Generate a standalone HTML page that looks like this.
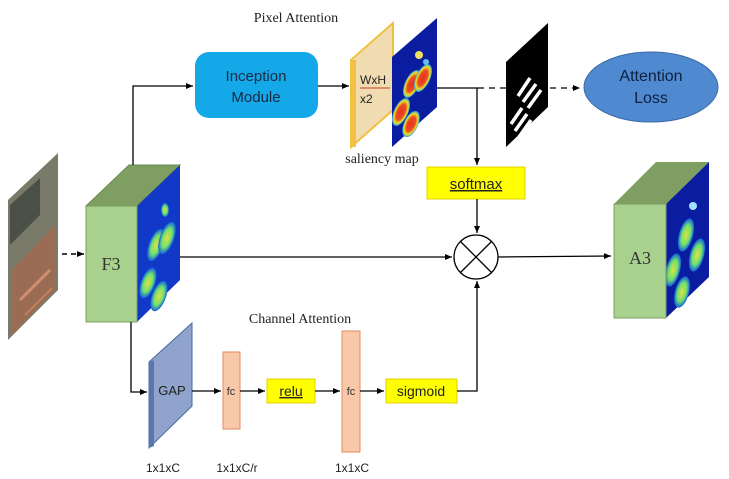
<!DOCTYPE html>
<html><head><meta charset="utf-8"><style>
body{margin:0;background:#fff}
svg{display:block}
.s{font-family:"Liberation Sans",sans-serif}
.r{font-family:"Liberation Serif",serif}
</style></head><body>
<svg width="729" height="479" viewBox="0 0 729 479" xmlns="http://www.w3.org/2000/svg">
<defs>
<marker id="a" markerWidth="8" markerHeight="8" refX="7" refY="4" orient="auto" markerUnits="userSpaceOnUse"><path d="M0,1 L7,4 L0,7 z" fill="#000"/></marker>
<radialGradient id="hb"><stop offset="0" stop-color="#e83020"/><stop offset=".55" stop-color="#e85020"/><stop offset=".8" stop-color="#f0e020"/><stop offset="1" stop-color="#20a0f0"/></radialGradient>
<radialGradient id="gb"><stop offset="0" stop-color="#e0e040"/><stop offset=".6" stop-color="#70e070"/><stop offset="1" stop-color="#1060e0"/></radialGradient>
</defs>
<rect width="729" height="479" fill="#fff"/>
<!-- satellite -->
<polygon points="8,200 58,153 58,290 8,340" fill="#7a7a6a"/>
<polygon points="10,205 40,178 40,215 10,245" fill="#4a5048"/>
<polygon points="12,270 55,225 55,290 12,335" fill="#a06a50" opacity=".85"/>
<line x1="20" y1="300" x2="50" y2="270" stroke="#d09070" stroke-width="3"/>
<line x1="25" y1="315" x2="52" y2="288" stroke="#c08060" stroke-width="2"/>
<line x1="62" y1="254" x2="84" y2="254" stroke="#000" stroke-width="1.5" stroke-dasharray="5,4" marker-end="url(#a)"/>
<!-- F3 cube -->
<polygon points="86,206 129,165 180,165 137,206" fill="#7f9e62" stroke="#6a8a50"/>
<polygon points="137,206 180,165 180,280 137,322" fill="#1238c8"/>
<ellipse cx="156" cy="245" rx="7" ry="17" fill="url(#gb)" transform="rotate(20 156 245)"/>
<ellipse cx="167" cy="238" rx="7" ry="17" fill="url(#gb)" transform="rotate(20 167 238)"/>
<ellipse cx="148" cy="283" rx="7" ry="16" fill="url(#gb)" transform="rotate(20 148 283)"/>
<ellipse cx="159" cy="296" rx="7" ry="16" fill="url(#gb)" transform="rotate(20 159 296)"/>
<ellipse cx="165" cy="210" rx="4" ry="7" fill="url(#gb)"/>
<rect x="86" y="206" width="51" height="116" fill="#a9d18e" stroke="#7f9e62"/>
<text x="111" y="270" class="r" font-size="18" text-anchor="middle" fill="#333">F3</text>
<!-- top path -->
<polyline points="133,165 133,86 193,86" fill="none" stroke="#000" stroke-width="1.3" marker-end="url(#a)"/>
<text x="296" y="22" class="r" font-size="14" text-anchor="middle" fill="#222">Pixel Attention</text>
<rect x="195" y="52" width="123" height="66" rx="14" fill="#14a8e8"/>
<text x="256" y="81" class="s" font-size="15" text-anchor="middle" fill="#1a2a40">Inception</text>
<text x="256" y="102" class="s" font-size="15" text-anchor="middle" fill="#1a2a40">Module</text>
<line x1="318" y1="86" x2="349" y2="86" stroke="#000" stroke-width="1.3" marker-end="url(#a)"/>
<polygon points="351,60 393,23 393,110 351,147" fill="#f0dcb0" stroke="#f0c040" stroke-width="2"/>
<polygon points="351,60 356,60 356,147 351,147" fill="#f5c040"/>
<text x="360" y="84" class="s" font-size="12" fill="#222">WxH</text>
<line x1="360" y1="88" x2="390" y2="88" stroke="#c04020" stroke-width="1"/>
<text x="360" y="103" class="s" font-size="12" fill="#222">x2</text>
<polygon points="392,57 437,18 437,107 392,147" fill="#0a1ca0"/>
<ellipse cx="412" cy="84" rx="7" ry="15" fill="url(#hb)" transform="rotate(25 412 84)"/>
<ellipse cx="423" cy="78" rx="7" ry="15" fill="url(#hb)" transform="rotate(25 423 78)"/>
<ellipse cx="401" cy="112" rx="7" ry="15" fill="url(#hb)" transform="rotate(25 401 112)"/>
<ellipse cx="411" cy="124" rx="7" ry="14" fill="url(#hb)" transform="rotate(25 411 124)"/>
<circle cx="419" cy="55" r="4" fill="#f0e060"/>
<circle cx="426" cy="62" r="3" fill="#60c0f0"/>
<text x="382" y="163" class="r" font-size="14" text-anchor="middle" fill="#222">saliency map</text>
<line x1="437" y1="88" x2="478" y2="88" stroke="#000" stroke-width="1.3"/>
<line x1="478" y1="88" x2="506" y2="88" stroke="#000" stroke-width="1.3" stroke-dasharray="6,5"/>
<polygon points="506,62 548,23 548,107 506,147" fill="#000"/>
<g stroke="#fff" stroke-width="3.5"><line x1="518" y1="96" x2="530" y2="78"/><line x1="523" y1="102" x2="536" y2="84"/><line x1="528" y1="108" x2="541" y2="90"/><line x1="511" y1="124" x2="522" y2="108"/><line x1="515" y1="131" x2="527" y2="114"/><line x1="519" y1="137" x2="531" y2="120"/></g>
<line x1="550" y1="88" x2="580" y2="88" stroke="#000" stroke-width="1.3" stroke-dasharray="6,5" marker-end="url(#a)"/>
<ellipse cx="651" cy="87" rx="67" ry="35" fill="#4f8ad0" stroke="#3a6aa8"/>
<text x="651" y="81" class="s" font-size="16" text-anchor="middle" fill="#0e2040">Attention</text>
<text x="651" y="103" class="s" font-size="16" text-anchor="middle" fill="#0e2040">Loss</text>
<line x1="477" y1="88" x2="477" y2="165" stroke="#000" stroke-width="1.3" marker-end="url(#a)"/>
<rect x="427" y="167" width="98" height="32" fill="#ffff00" stroke="#e0d000"/>
<text x="476" y="189" class="s" font-size="15" text-anchor="middle" fill="#222" text-decoration="underline">softmax</text>
<line x1="477" y1="199" x2="477" y2="233" stroke="#000" stroke-width="1.3" marker-end="url(#a)"/>
<!-- main line -->
<line x1="180" y1="257" x2="452" y2="257" stroke="#000" stroke-width="1.3" marker-end="url(#a)"/>
<circle cx="476" cy="257" r="22" fill="#fff" stroke="#000" stroke-width="1.3"/>
<line x1="460" y1="241" x2="492" y2="273" stroke="#000" stroke-width="1.3"/>
<line x1="492" y1="241" x2="460" y2="273" stroke="#000" stroke-width="1.3"/>
<line x1="498" y1="257" x2="611" y2="256" stroke="#000" stroke-width="1.3" marker-end="url(#a)"/>
<!-- A3 -->
<polygon points="614,204 656,162 709,162 666,204" fill="#7f9e62"/>
<polygon points="666,204 709,162 709,277 666,318" fill="#0a1ca0"/>
<ellipse cx="686" cy="235" rx="7" ry="17" fill="url(#gb)" transform="rotate(15 686 235)"/>
<ellipse cx="697" cy="255" rx="7" ry="17" fill="url(#gb)" transform="rotate(15 697 255)"/>
<ellipse cx="673" cy="270" rx="7" ry="17" fill="url(#gb)" transform="rotate(15 673 270)"/>
<ellipse cx="682" cy="292" rx="7" ry="16" fill="url(#gb)" transform="rotate(15 682 292)"/>
<circle cx="693" cy="206" r="4" fill="#a0e0ff"/>
<rect x="614" y="204" width="52" height="114" fill="#a9d18e" stroke="#7f9e62"/>
<text x="640" y="264" class="r" font-size="18" text-anchor="middle" fill="#333">A3</text>
<!-- channel -->
<text x="300" y="323" class="r" font-size="14" text-anchor="middle" fill="#222">Channel Attention</text>
<polyline points="131,322 131,392 147,392" fill="none" stroke="#000" stroke-width="1.3" marker-end="url(#a)"/>
<polygon points="149,362 192,323 192,406 149,448" fill="#8fa3cc" stroke="#4a6aa0"/>
<polygon points="149,362 154,360 154,446 149,448" fill="#5a78b0"/>
<text x="172" y="395" class="s" font-size="13" text-anchor="middle" fill="#222">GAP</text>
<line x1="192" y1="391" x2="221" y2="391" stroke="#000" stroke-width="1.3" marker-end="url(#a)"/>
<rect x="223" y="352" width="17" height="77" fill="#f8c8a8" stroke="#e08a60"/>
<text x="231" y="395" class="s" font-size="11" text-anchor="middle" fill="#333">fc</text>
<line x1="240" y1="391" x2="265" y2="391" stroke="#000" stroke-width="1.3" marker-end="url(#a)"/>
<rect x="267" y="379" width="48" height="24" fill="#ffff00" stroke="#e0d000"/>
<text x="291" y="396" class="s" font-size="14" text-anchor="middle" fill="#222" text-decoration="underline">relu</text>
<line x1="315" y1="391" x2="340" y2="391" stroke="#000" stroke-width="1.3" marker-end="url(#a)"/>
<rect x="342" y="331" width="18" height="121" fill="#f8c8a8" stroke="#e08a60"/>
<text x="351" y="395" class="s" font-size="11" text-anchor="middle" fill="#333">fc</text>
<line x1="360" y1="391" x2="384" y2="391" stroke="#000" stroke-width="1.3" marker-end="url(#a)"/>
<rect x="386" y="379" width="71" height="24" fill="#ffff00" stroke="#e0d000"/>
<text x="421" y="396" class="s" font-size="14" text-anchor="middle" fill="#222">sigmoid</text>
<polyline points="457,391 477,391 477,281" fill="none" stroke="#000" stroke-width="1.3" marker-end="url(#a)"/>
<text x="163" y="472" class="s" font-size="12" text-anchor="middle" fill="#222">1x1xC</text>
<text x="237" y="472" class="s" font-size="12" text-anchor="middle" fill="#222">1x1xC/r</text>
<text x="352" y="472" class="s" font-size="12" text-anchor="middle" fill="#222">1x1xC</text>
</svg>
</body></html>
